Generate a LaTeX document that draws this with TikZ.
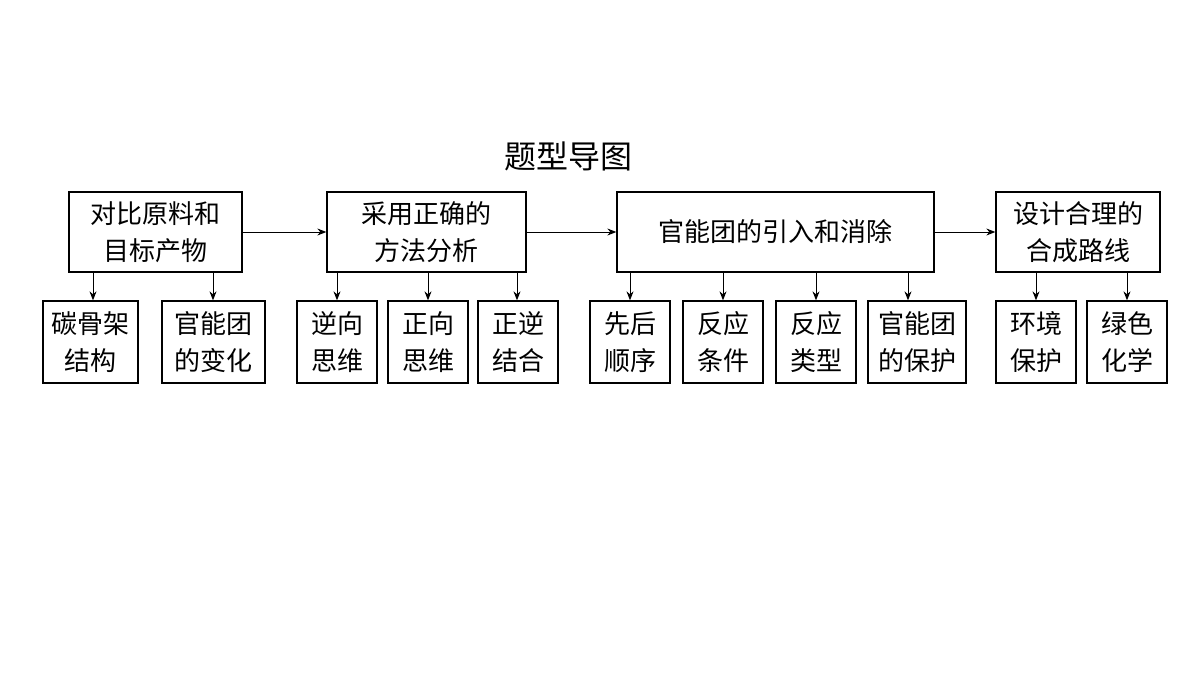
\documentclass[tikz,border=0pt]{standalone}
\usepackage{fontspec}
\newfontfamily\cjk{Noto Sans CJK SC}
\usetikzlibrary{arrows.meta}
\begin{document}
\begin{tikzpicture}[x=1pt,y=-1pt,
  bx/.style={draw,line width=1.3pt,inner sep=0pt,font=\cjk\fontsize{26}{37}\selectfont,align=center},
  ar/.style={-{Stealth[length=9pt,width=7pt]},line width=1pt}]
\useasboundingbox (0,0) rectangle (1200,675);
\node[font=\cjk\fontsize{32}{36}\selectfont] (title) at (568,156) {题型导图};
\newcommand{\bx}[6]{\node[bx,minimum width=#4-#2,minimum height=#5-#3] (#1) at ({(#2+#4)/2},{(#3+#5)/2}) {#6};}
\bx{t1}{69}{192}{242}{272}{对比原料和\\目标产物}
\bx{t2}{327}{192}{526}{272}{采用正确的\\方法分析}
\bx{t3}{617}{192}{934}{272}{官能团的引入和消除}
\bx{t4}{996}{192}{1160}{272}{设计合理的\\合成路线}
\bx{b1}{43}{301}{138}{383}{碳骨架\\结构}
\bx{b2}{162}{301}{265}{383}{官能团\\的变化}
\bx{b3}{297}{301}{377}{383}{逆向\\思维}
\bx{b4}{388}{301}{468}{383}{正向\\思维}
\bx{b5}{478}{301}{558}{383}{正逆\\结合}
\bx{b6}{590}{301}{670}{383}{先后\\顺序}
\bx{b7}{683}{301}{763}{383}{反应\\条件}
\bx{b8}{776}{301}{856}{383}{反应\\类型}
\bx{b9}{868}{301}{966}{383}{官能团\\的保护}
\bx{b10}{996}{301}{1076}{383}{环境\\保护}
\bx{b11}{1087}{301}{1167}{383}{绿色\\化学}
\draw[ar] (t1) -- (t2);
\draw[ar] (t2) -- (t3);
\draw[ar] (t3) -- (t4);
\foreach \t/\b/\x in {t1/b1/93,t1/b2/213,t2/b3/337,t2/b4/428,t2/b5/517,t3/b6/630,t3/b7/723,t3/b8/816,t3/b9/908,t4/b10/1036,t4/b11/1127}
  \draw[ar] (\t.south -| \x,0) -- (\b.north -| \x,0);
\end{tikzpicture}
\end{document}
